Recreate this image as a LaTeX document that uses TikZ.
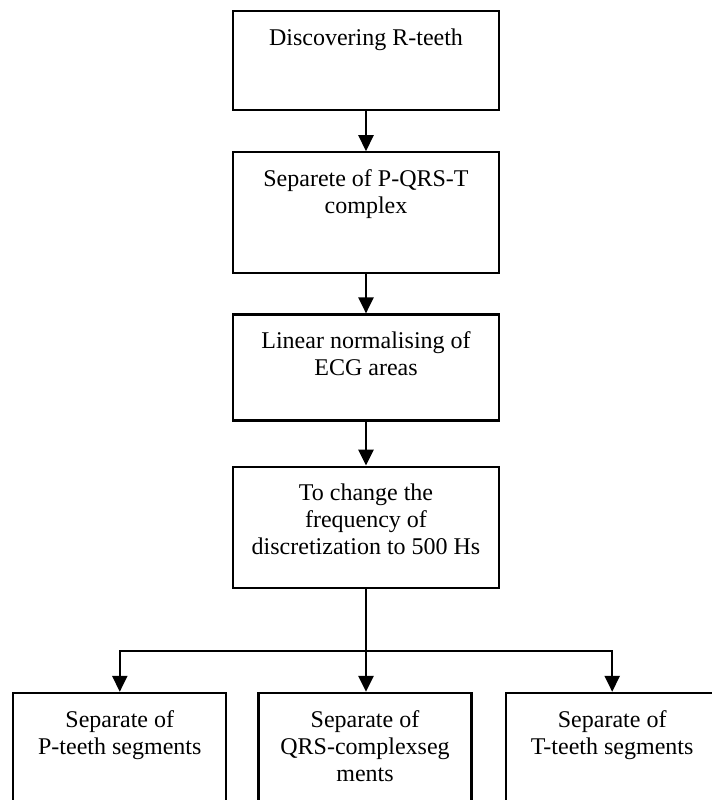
\documentclass[tikz,border=0pt]{standalone}
\usepackage{fontspec}
\setmainfont{Liberation Serif}
\usepackage{tikz}
\usetikzlibrary{arrows.meta, positioning}
\tikzset{
    stageblock/.style={rectangle, draw=black, line width=1.1pt, minimum width=133pt, inner sep=0pt},
    segblock/.style={stageblock, minimum width=106.5pt, minimum height=70pt},
    innertext/.style={anchor=north, yshift=-9pt, inner sep=0pt, align=center, font=\fontsize{12pt}{13.5pt}\selectfont},
    arrow/.style={line width=1.25pt, -{Triangle[width=7.5pt,length=8pt]}, color=black}
}
\begin{document}
\begin{tikzpicture}[node distance=20pt]
    \useasboundingbox (0,0) rectangle (356pt,-400pt);

    \node (rpeaks) [stageblock, minimum height=49.5pt, anchor=north] at (183pt,-5pt) {};
    \node [innertext] at (rpeaks.north) {Discovering R-teeth};

    \node (pqrst) [stageblock, minimum height=60.5pt, below=20pt of rpeaks] {};
    \node [innertext] at (pqrst.north) {Separete of P-QRS-T\\complex};

    \node (normal) [stageblock, minimum height=53pt, below=19.5pt of pqrst] {};
    \node [innertext] at (normal.north) {Linear normalising of\\ECG areas};

    \node (resample) [stageblock, minimum height=60.5pt, below=22pt of normal] {};
    \node [innertext] at (resample.north) {To change the\\frequency of\\discretization to 500 Hs};

    % bottom row runs past the page edge
    \node (qrsseg) [segblock, anchor=north] at ([xshift=-0.5pt, yshift=-51.5pt]resample.south) {};
    \node [innertext] at (qrsseg.north) {Separate of\\QRS-complexseg\\ments};
    \node (pseg) [segblock, left=15pt of qrsseg] {};
    \node [innertext] at (pseg.north) {Separate of\\P-teeth segments};
    \node (tseg) [segblock, right=16pt of qrsseg] {};
    \node [innertext] at (tseg.north) {Separate of\\T-teeth segments};

    \coordinate (split) at ([yshift=-31pt]resample.south);

    \draw [arrow] (rpeaks) -- (pqrst);
    \draw [arrow] (pqrst) -- (normal);
    \draw [arrow] (normal) -- (resample);
    \draw [arrow] (resample) -- (resample |- qrsseg.north);
    \draw [arrow] (split) -| (pseg);
    \draw [arrow] (split) -| (tseg);
\end{tikzpicture}
\end{document}
